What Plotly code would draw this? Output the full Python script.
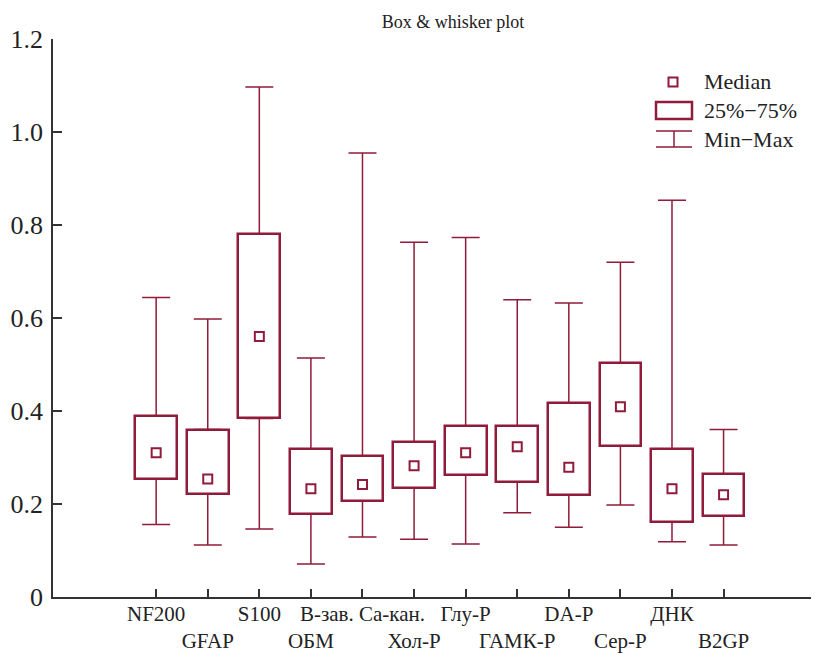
import plotly.graph_objects as go

# ---- data ----
categories = ["NF200", "GFAP", "S100", "ОБМ", "В-зав. Ca-кан.", "Хол-Р",
              "Глу-Р", "ГАМК-Р", "DA-Р", "Сер-Р", "ДНК", "B2GP"]
mins   = [0.156, 0.112, 0.146, 0.071, 0.129, 0.124, 0.114, 0.181, 0.150, 0.198, 0.119, 0.112]
q1     = [0.254, 0.221, 0.384, 0.178, 0.207, 0.234, 0.262, 0.248, 0.219, 0.325, 0.161, 0.175]
median = [0.310, 0.254, 0.560, 0.233, 0.242, 0.282, 0.310, 0.323, 0.279, 0.409, 0.233, 0.220]
q3     = [0.389, 0.360, 0.781, 0.318, 0.303, 0.333, 0.368, 0.367, 0.418, 0.503, 0.319, 0.265]
maxs   = [0.644, 0.598, 1.097, 0.514, 0.955, 0.763, 0.773, 0.639, 0.632, 0.720, 0.853, 0.360]
y_ticks = [0, 0.2, 0.4, 0.6, 0.8, 1.0, 1.2]
y_tick_labels = ["0", "0.2", "0.4", "0.6", "0.8", "1.0", "1.2"]

COL = "#901B3A"
FONT = "Liberation Serif"
OFF = 8  # page body margin
W, H = 819 - OFF, 654 - OFF
ML, MR, MT, MB = 53 - OFF, 0, 39 - OFF, 57

# staggered tick labels (every second one on a second row)
tick_text = [c if i % 2 == 0 else "<br>" + c for i, c in enumerate(categories)]

fig = go.Figure()

# boxes (25%-75%)
fig.add_trace(go.Bar(
    x=categories, y=[b - a for a, b in zip(q1, q3)], base=q1,
    width=0.81, marker=dict(color="white", line=dict(color=COL, width=2.5)),
    name="25%–75%", showlegend=False,
))
# upper whiskers
fig.add_trace(go.Scatter(
    x=categories, y=q3, mode="markers", marker=dict(size=1, opacity=0),
    error_y=dict(type="data", symmetric=False,
                 array=[b - a for a, b in zip(q3, maxs)], arrayminus=[0] * len(q3),
                 width=14, thickness=1.5, color=COL),
    name="Max", showlegend=False, hoverinfo="skip",
))
# lower whiskers
fig.add_trace(go.Scatter(
    x=categories, y=q1, mode="markers", marker=dict(size=1, opacity=0),
    error_y=dict(type="data", symmetric=False,
                 array=[0] * len(q1), arrayminus=[a - b for a, b in zip(q1, mins)],
                 width=14, thickness=1.5, color=COL),
    name="Min", showlegend=False, hoverinfo="skip",
))
# medians
fig.add_trace(go.Scatter(
    x=categories, y=median, mode="markers",
    marker=dict(symbol="square-open", size=9, color=COL, line=dict(width=2, color=COL)),
    name="Median", showlegend=False,
))

# ---- manual legend (positions given in page pixels) ----
pw, ph = W - ML - MR, H - MT - MB
def px(x):
    return (x - OFF - ML) / pw
def py(y):
    return (H - MB - (y - OFF)) / ph

shapes = [
    dict(type="rect", xref="paper", yref="paper", x0=px(668.5), x1=px(677.5),
         y0=py(86.5), y1=py(77.5), line=dict(color=COL, width=2)),
    dict(type="rect", xref="paper", yref="paper", x0=px(656), x1=px(692),
         y0=py(119), y1=py(102), line=dict(color=COL, width=2.5)),
    dict(type="line", xref="paper", yref="paper", x0=px(656), x1=px(692),
         y0=py(131), y1=py(131), line=dict(color=COL, width=1.5)),
    dict(type="line", xref="paper", yref="paper", x0=px(656), x1=px(692),
         y0=py(147), y1=py(147), line=dict(color=COL, width=1.5)),
    dict(type="line", xref="paper", yref="paper", x0=px(674), x1=px(674),
         y0=py(131), y1=py(147), line=dict(color=COL, width=1.5)),
]
annots = []
for txt, yy in [("Median", 81), ("25%−75%", 110), ("Min−Max", 139)]:
    annots.append(dict(text=txt, xref="paper", yref="paper", x=px(702), y=py(yy),
                       xanchor="left", yanchor="middle", showarrow=False,
                       font=dict(family=FONT, size=22, color="#222")))

fig.update_layout(
    width=W, height=H,
    margin=dict(l=ML, r=MR, t=MT, b=MB, autoexpand=False),
    paper_bgcolor="white", plot_bgcolor="white",
    title=dict(text="Box & whisker plot", x=(453 - OFF) / W, xanchor="center",
               xref="container", yref="container", y=1 - (22 - OFF) / H, yanchor="middle",
               font=dict(family=FONT, size=18, color="#222")),
    shapes=shapes, annotations=annots,
    showlegend=False,
    bargap=0,
    xaxis=dict(type="category", range=[-2, 12.85], tickmode="array",
               tickvals=categories, ticktext=tick_text, tickangle=0, automargin=False,
               ticklabelstandoff=-3,
               showline=True, linecolor="#333", linewidth=1.5,
               ticks="inside", ticklen=8, tickwidth=1.5, tickcolor="#333",
               showgrid=False, zeroline=False,
               tickfont=dict(family=FONT, size=21, color="#222")),
    yaxis=dict(range=[0, 1.2], tickmode="array", tickvals=y_ticks, ticktext=y_tick_labels,
               automargin=False, ticklabelstandoff=3,
               showline=True, linecolor="#333", linewidth=1.5,
               ticks="inside", ticklen=9, tickwidth=1.5, tickcolor="#333",
               showgrid=False, zeroline=False,
               tickfont=dict(family=FONT, size=26, color="#222")),
)

fig.write_html("out.html")
